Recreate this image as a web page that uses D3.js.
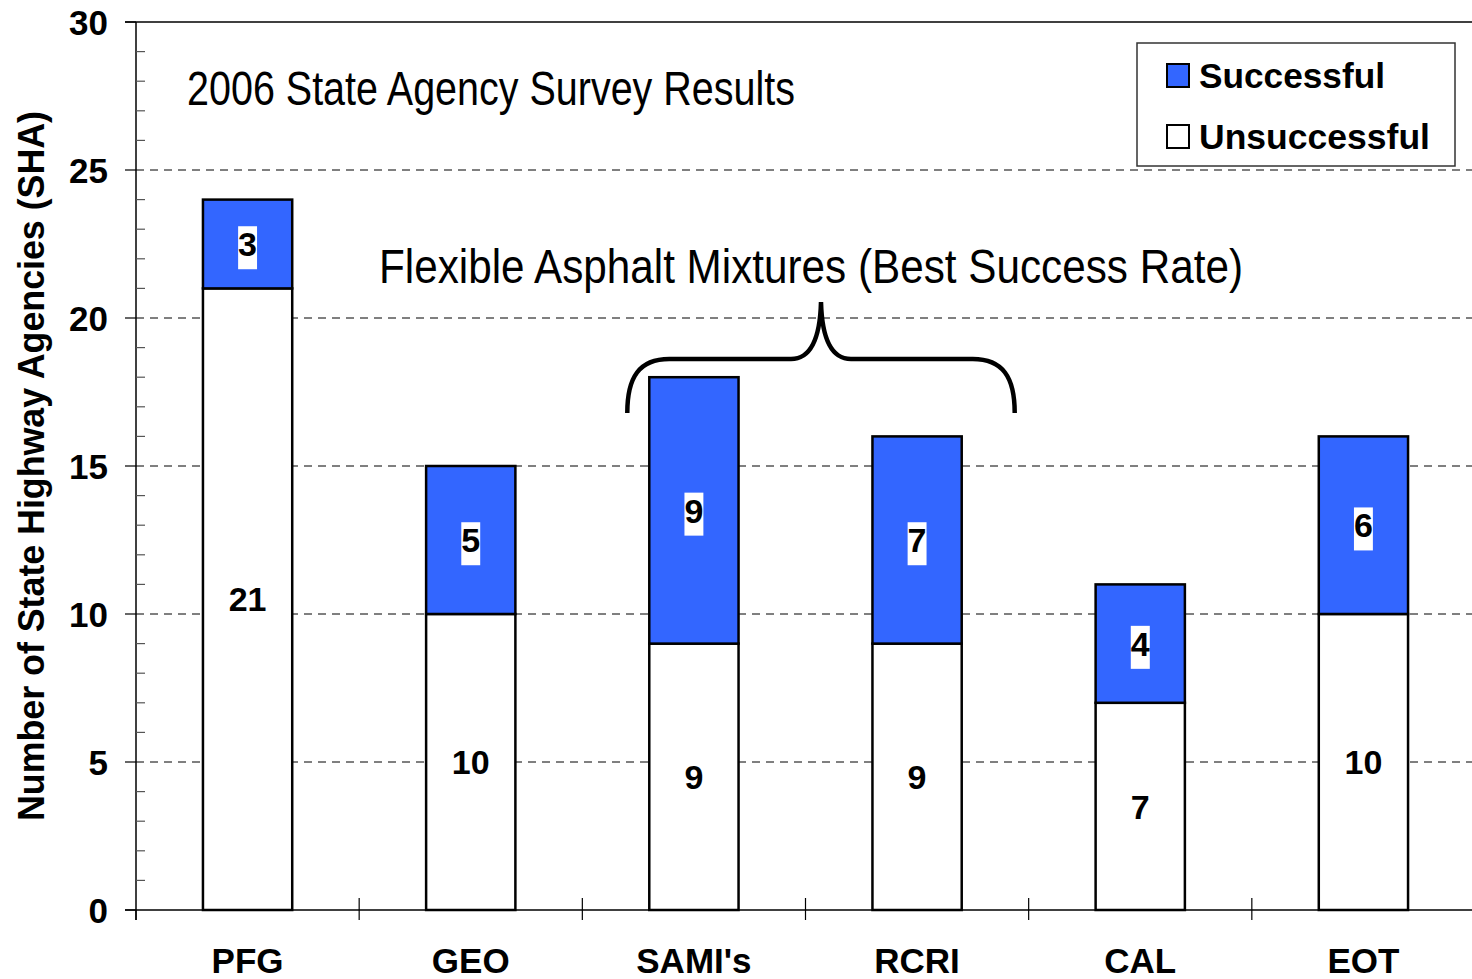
<!DOCTYPE html>
<html>
<head>
<meta charset="utf-8">
<script src="https://cdn.jsdelivr.net/npm/d3@7"></script>
<style>
  html, body { margin: 0; padding: 0; background: #fff; }
  svg { display: block; }
  text { font-family: "Liberation Sans", Arial, sans-serif; }
</style>
</head>
<body>
<svg id="chart" width="1472" height="979"></svg>
<script>
// Survey results per treatment type
const categories   = ["PFG", "GEO", "SAMI's", "RCRI", "CAL", "EOT"];
const unsuccessful = [21, 10, 9, 9, 7, 10];
const successful   = [3, 5, 9, 7, 4, 6];
const yTicks       = [0, 5, 10, 15, 20, 25, 30];
const seriesNames  = ["Successful", "Unsuccessful"];
const bracedGroup  = ["SAMI's", "RCRI"];

const BLUE = "#3366ff";
const W = 1472, H = 979;
const margin = { left: 136, right: -3, top: 22, bottom: 69 };

const svg = d3.select("#chart");

const x = d3.scaleBand()
  .domain(categories)
  .range([margin.left, W - margin.right])
  .paddingInner(0.6)
  .paddingOuter(0.3);

const y = d3.scaleLinear()
  .domain([0, 30])
  .range([H - margin.bottom, margin.top]);

const x0 = margin.left, x1 = W - margin.right;

// dashed horizontal gridlines
svg.append("g")
  .selectAll("line")
  .data(yTicks.filter(d => d > 0 && d < 30))
  .join("line")
  .attr("x1", x0).attr("x2", x1)
  .attr("y1", d => y(d)).attr("y2", d => y(d))
  .attr("stroke", "#000")
  .attr("stroke-width", 1)
  .attr("stroke-dasharray", "8,6");

// top border of plot area
svg.append("line")
  .attr("x1", x0 - 11).attr("x2", x1)
  .attr("y1", y(30)).attr("y2", y(30))
  .attr("stroke", "#000").attr("stroke-width", 1.5);

// y axis: major ticks outside, minor ticks inside
const yAxis = svg.append("g").attr("transform", `translate(${x0},0)`);
yAxis.append("line")
  .attr("x1", 0).attr("x2", 0)
  .attr("y1", y(30)).attr("y2", y(0) + 10)
  .attr("stroke", "#000").attr("stroke-width", 1.5);
yAxis.selectAll("line.major")
  .data(yTicks)
  .join("line").attr("class", "major")
  .attr("x1", -11).attr("x2", 0)
  .attr("y1", d => y(d)).attr("y2", d => y(d))
  .attr("stroke", "#000").attr("stroke-width", 1.2);
yAxis.selectAll("line.minor")
  .data(d3.range(0, 31).filter(d => d % 5 !== 0))
  .join("line").attr("class", "minor")
  .attr("x1", 0).attr("x2", 9)
  .attr("y1", d => y(d)).attr("y2", d => y(d))
  .attr("stroke", "#555").attr("stroke-width", 1.2);
yAxis.selectAll("text")
  .data(yTicks)
  .join("text")
  .attr("x", -28)
  .attr("y", d => y(d))
  .attr("dy", "0.36em")
  .attr("text-anchor", "end")
  .attr("font-size", 35)
  .attr("font-weight", "bold")
  .text(d => d);

// y axis title
svg.append("text")
  .attr("transform", `translate(44, ${(y(0) + y(30)) / 2}) rotate(-90)`)
  .attr("text-anchor", "middle")
  .attr("font-size", 36)
  .attr("font-weight", "bold")
  .attr("textLength", 710).attr("lengthAdjust", "spacingAndGlyphs")
  .text("Number of State Highway Agencies (SHA)");

// x axis baseline and category separators
svg.append("line")
  .attr("x1", x0 - 11).attr("x2", x1)
  .attr("y1", y(0)).attr("y2", y(0))
  .attr("stroke", "#000").attr("stroke-width", 1.5);
const step = x.step();
svg.append("g")
  .selectAll("line")
  .data(d3.range(categories.length + 1))
  .join("line")
  .attr("x1", i => x0 + i * step).attr("x2", i => x0 + i * step)
  .attr("y1", i => i === 0 ? y(0) : y(0) - 12)
  .attr("y2", y(0) + 10)
  .attr("stroke", "#000").attr("stroke-width", 1.2);

svg.append("g")
  .selectAll("text")
  .data(categories)
  .join("text")
  .attr("x", d => x(d) + x.bandwidth() / 2)
  .attr("y", 973)
  .attr("text-anchor", "middle")
  .attr("font-size", 35)
  .attr("font-weight", "bold")
  .text(d => d);

// stacked bars
const rows = categories.map((c, i) => ({ cat: c, uns: unsuccessful[i], suc: successful[i] }));
const bars = svg.append("g");
bars.selectAll("rect.uns")
  .data(rows)
  .join("rect").attr("class", "uns")
  .attr("x", d => x(d.cat))
  .attr("width", x.bandwidth())
  .attr("y", d => y(d.uns))
  .attr("height", d => y(0) - y(d.uns))
  .attr("fill", "#fff")
  .attr("stroke", "#000").attr("stroke-width", 2.5);
bars.selectAll("rect.suc")
  .data(rows)
  .join("rect").attr("class", "suc")
  .attr("x", d => x(d.cat))
  .attr("width", x.bandwidth())
  .attr("y", d => y(d.uns + d.suc))
  .attr("height", d => y(d.uns) - y(d.uns + d.suc))
  .attr("fill", BLUE)
  .attr("stroke", "#000").attr("stroke-width", 2.5);

// value labels
const labels = svg.append("g");
rows.forEach(d => {
  const cx = x(d.cat) + x.bandwidth() / 2;
  labels.append("text")
    .attr("x", cx).attr("y", y(d.uns / 2))
    .attr("dy", "0.36em")
    .attr("text-anchor", "middle")
    .attr("font-size", 34).attr("font-weight", "bold")
    .text(d.uns);
  const g = labels.append("g");
  const t = g.append("text")
    .attr("x", cx).attr("y", y(d.uns + d.suc / 2))
    .attr("dy", "0.36em")
    .attr("text-anchor", "middle")
    .attr("font-size", 34).attr("font-weight", "bold")
    .text(d.suc);
  const bb = t.node().getBBox();
  g.insert("rect", "text")
    .attr("x", bb.x).attr("y", bb.y + 1)
    .attr("width", bb.width).attr("height", bb.height + 5)
    .attr("fill", "#fff");
});

// chart heading
svg.append("text")
  .attr("x", 187).attr("y", 105)
  .attr("font-family", "'Liberation Sans Narrow', 'Arial Narrow', sans-serif")
  .attr("font-size", 48)
  .attr("textLength", 608).attr("lengthAdjust", "spacingAndGlyphs")
  .text("2006 State Agency Survey Results");

// brace over the asphalt-mixture group
const bx0 = x(bracedGroup[0]) - 22;
const bx1 = x(bracedGroup[1]) + x.bandwidth() + 53;
const bm = (bx0 + bx1) / 2;
const bTop = 302, bMid = 359, bEnd = 413;
svg.append("path")
  .attr("d", `M${bx0},${bEnd} C${bx0},${bMid + 18} ${bx0 + 12},${bMid} ${bx0 + 42},${bMid}
              L${bm - 30},${bMid} C${bm - 10},${bMid} ${bm - 1},${bMid - 20} ${bm},${bTop}
              C${bm + 1},${bMid - 20} ${bm + 10},${bMid} ${bm + 30},${bMid}
              L${bx1 - 42},${bMid} C${bx1 - 12},${bMid} ${bx1},${bMid + 18} ${bx1},${bEnd}`)
  .attr("fill", "none")
  .attr("stroke", "#000")
  .attr("stroke-width", 4.5);

svg.append("text")
  .attr("x", 379).attr("y", 283)
  .attr("font-family", "'Liberation Sans Narrow', 'Arial Narrow', sans-serif")
  .attr("font-size", 48)
  .attr("textLength", 864).attr("lengthAdjust", "spacingAndGlyphs")
  .text("Flexible Asphalt Mixtures (Best Success Rate)");

// legend
const lg = svg.append("g");
lg.append("rect")
  .attr("x", 1137).attr("y", 43).attr("width", 318).attr("height", 123)
  .attr("fill", "#fff").attr("stroke", "#333").attr("stroke-width", 1.5);
const legendFill = [BLUE, "#fff"];
seriesNames.forEach((name, i) => {
  const yy = 64 + i * 61;
  lg.append("rect")
    .attr("x", 1167).attr("y", yy).attr("width", 22).attr("height", 23)
    .attr("fill", legendFill[i]).attr("stroke", "#000").attr("stroke-width", 2);
  lg.append("text")
    .attr("x", 1199).attr("y", yy + 24)
    .attr("font-size", 35).attr("font-weight", "bold")
    .attr("textLength", name === "Successful" ? 186 : 231)
    .attr("lengthAdjust", "spacingAndGlyphs")
    .text(name);
});
</script>
</body>
</html>
